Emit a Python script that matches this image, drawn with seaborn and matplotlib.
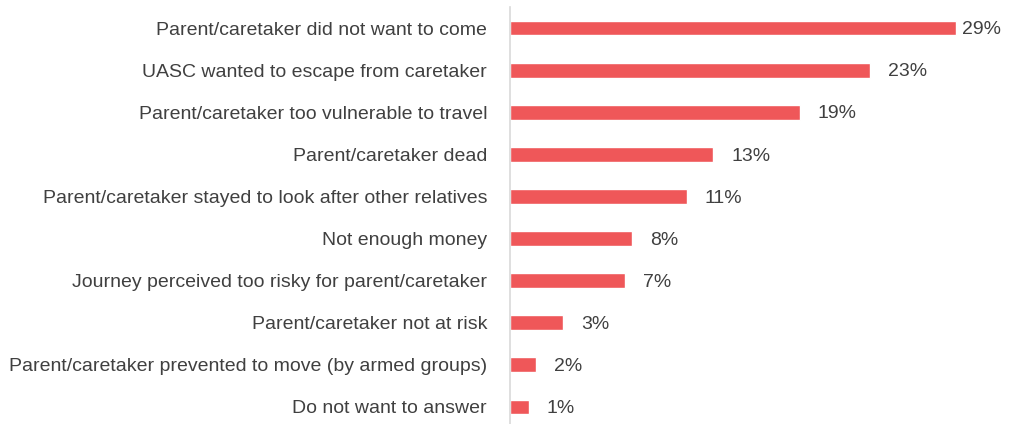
import matplotlib
matplotlib.use("Agg")
import matplotlib.pyplot as plt
import seaborn as sns
import pandas as pd

categories = [
    "Parent/caretaker did not want to come",
    "UASC wanted to escape from caretaker",
    "Parent/caretaker too vulnerable to travel",
    "Parent/caretaker dead",
    "Parent/caretaker stayed to look after other relatives",
    "Not enough money",
    "Journey perceived too risky for parent/caretaker",
    "Parent/caretaker not at risk",
    "Parent/caretaker prevented to move (by armed groups)",
    "Do not want to answer",
]
values = [28.8, 23.2, 18.7, 13.1, 11.4, 7.9, 7.4, 3.4, 1.7, 1.2]
value_labels = ["29%", "23%", "19%", "13%", "11%", "8%", "7%", "3%", "2%", "1%"]

sns.set_theme(style="white")
plt.rcParams["font.family"] = ["Liberation Sans", "DejaVu Sans"]

df = pd.DataFrame({"cat": categories, "val": values})

fig = plt.figure(figsize=(10.13, 4.24), dpi=100)
ax = fig.add_axes([510 / 1013, 1 - 428 / 424, (975 - 510) / 1013, 421 / 424])
sns.barplot(data=df, y="cat", x="val", orient="h", color="#EF5759",
            saturation=1, width=0.35, ax=ax)
ax.set_xlim(0, 30)
ax.set_ylim(9.5, -0.5)
ax.set_xlabel("")
ax.set_ylabel("")
ax.set_xticks([])
for s in ["top", "right", "bottom"]:
    ax.spines[s].set_visible(False)
ax.spines["left"].set_color("#D9D9D9")
ax.spines["left"].set_linewidth(1.2)
ax.tick_params(axis="y", length=0, pad=16.5, labelsize=14, labelcolor="#404040")

for i, (v, lab) in enumerate(zip(values, value_labels)):
    off = 4 if i == 0 else 13
    ax.annotate(lab, xy=(v, i), xytext=(off, -1.2), textcoords="offset points",
                ha="left", va="center", fontsize=14, color="#404040",
                annotation_clip=False)

fig.savefig("out.png", dpi=100)
